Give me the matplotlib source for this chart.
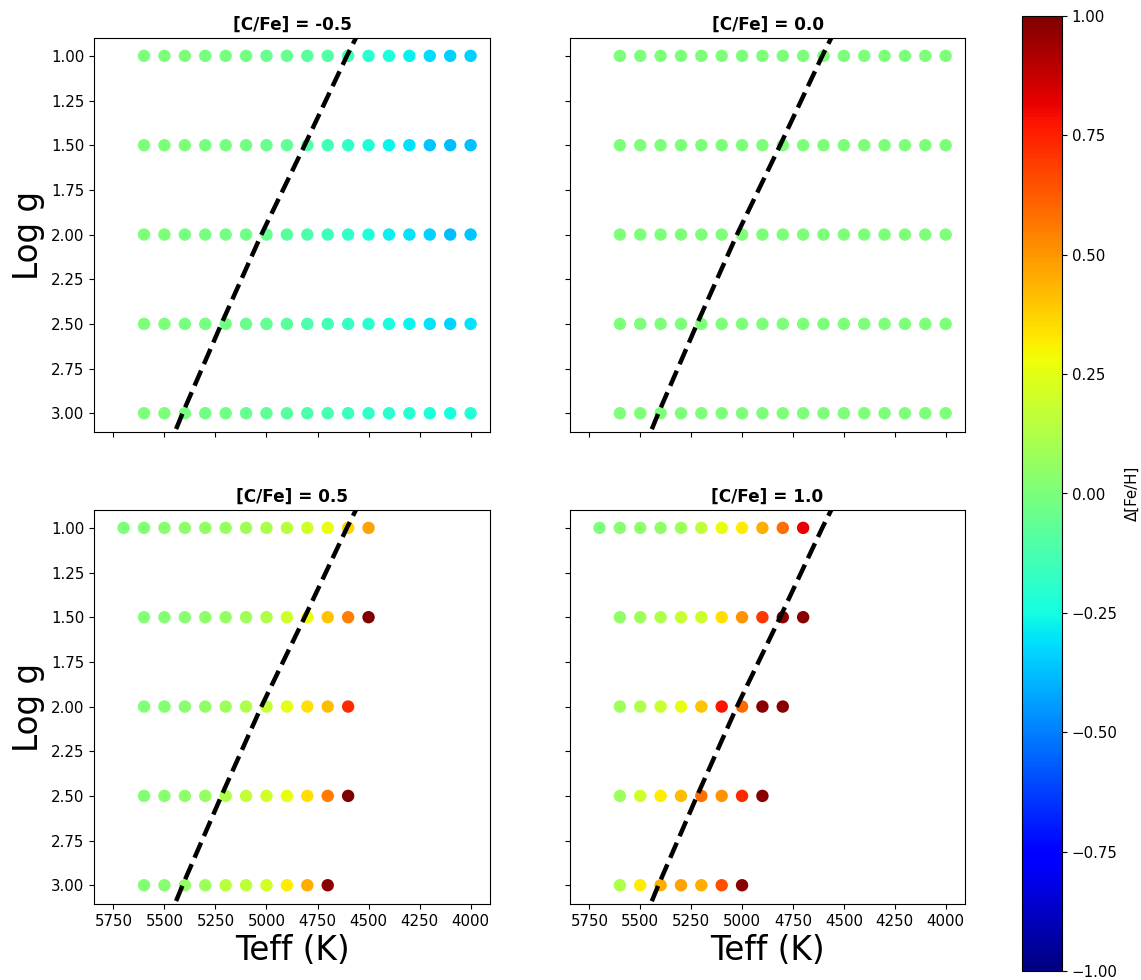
import numpy as np
import matplotlib
matplotlib.use("Agg")
import matplotlib.pyplot as plt
from matplotlib.colors import Normalize

# ---------------- data ----------------
cfe_titles = ["[C/Fe] = -0.5", "[C/Fe] = 0.0", "[C/Fe] = 0.5", "[C/Fe] = 1.0"]
logg_levels = [1.0, 1.5, 2.0, 2.5, 3.0]

# Teff grids per panel / logg row (start, stop) in K, step 100
teff_m05 = {1.0: (5600, 4000), 1.5: (5600, 4000), 2.0: (5600, 4000), 2.5: (5600, 4000), 3.0: (5600, 4000)}
teff_p00 = {1.0: (5600, 4000), 1.5: (5600, 4000), 2.0: (5600, 4000), 2.5: (5600, 4000), 3.0: (5600, 4000)}
teff_p05 = {1.0: (5700, 4500), 1.5: (5600, 4500), 2.0: (5600, 4600), 2.5: (5600, 4600), 3.0: (5600, 4700)}
teff_p10 = {1.0: (5700, 4700), 1.5: (5600, 4700), 2.0: (5600, 4800), 2.5: (5600, 4900), 3.0: (5600, 5000)}

# Delta[Fe/H] values, hot -> cool
dfeh_m05 = {
    1.0: [0.0, 0.0, 0.0, -0.01, -0.01, -0.02, -0.04, -0.05, -0.08, -0.10, -0.14, -0.20, -0.24, -0.28, -0.32, -0.34, -0.34],
    1.5: [0.0, 0.0, 0.0, -0.01, -0.01, -0.02, -0.04, -0.06, -0.10, -0.14, -0.18, -0.22, -0.27, -0.31, -0.36, -0.38, -0.37],
    2.0: [0.0, 0.0, -0.01, -0.01, -0.02, -0.03, -0.05, -0.08, -0.11, -0.15, -0.18, -0.22, -0.28, -0.30, -0.34, -0.38, -0.36],
    2.5: [0.0, 0.0, -0.01, -0.01, -0.02, -0.04, -0.06, -0.08, -0.11, -0.14, -0.17, -0.20, -0.24, -0.27, -0.30, -0.33, -0.30],
    3.0: [0.0, 0.0, -0.01, -0.02, -0.03, -0.05, -0.07, -0.09, -0.11, -0.13, -0.15, -0.18, -0.20, -0.21, -0.23, -0.25, -0.22],
}
dfeh_p00 = {g: [0.0] * 17 for g in logg_levels}
dfeh_p05 = {
    1.0: [0.0, 0.02, 0.03, 0.04, 0.05, 0.07, 0.09, 0.11, 0.15, 0.20, 0.26, 0.37, 0.47],
    1.5: [0.01, 0.02, 0.03, 0.04, 0.06, 0.08, 0.12, 0.20, 0.27, 0.40, 0.55, 1.0],
    2.0: [0.01, 0.02, 0.03, 0.05, 0.08, 0.12, 0.17, 0.25, 0.34, 0.42, 0.73],
    2.5: [0.02, 0.03, 0.04, 0.06, 0.12, 0.17, 0.20, 0.26, 0.35, 0.56, 1.0],
    3.0: [0.02, 0.03, 0.06, 0.08, 0.15, 0.16, 0.21, 0.32, 0.45, 0.98],
}
dfeh_p10 = {
    1.0: [0.0, 0.03, 0.04, 0.05, 0.08, 0.17, 0.26, 0.32, 0.45, 0.58, 0.82],
    1.5: [0.05, 0.08, 0.12, 0.18, 0.19, 0.35, 0.50, 0.70, 0.98, 0.98],
    2.0: [0.08, 0.12, 0.18, 0.26, 0.40, 0.78, 0.60, 0.98, 0.98],
    2.5: [0.08, 0.20, 0.32, 0.42, 0.58, 0.50, 0.73, 0.98],
    3.0: [0.12, 0.32, 0.45, 0.47, 0.45, 0.65, 0.98],
}

# dashed boundary line (Teff vs logg)
line_logg = [0.85, 1.0, 1.5, 2.0, 2.5, 3.0, 3.15]
line_teff = [4540, 4606, 4813, 5025, 5221, 5411, 5465]

xticks = [5750, 5500, 5250, 5000, 4750, 4500, 4250, 4000]
yticks = [1.00, 1.25, 1.50, 1.75, 2.00, 2.25, 2.50, 2.75, 3.00]
cbar_ticks = [-1.0, -0.75, -0.5, -0.25, 0.0, 0.25, 0.5, 0.75, 1.0]

# ---------------- figure ----------------
W, H = 1141, 980
fig = plt.figure(figsize=(W / 100, H / 100), dpi=100)

def ax_rect(l, r, t, b):
    return [l / W, 1 - b / H, (r - l) / W, (b - t) / H]

rects = [ax_rect(94, 490, 38, 432), ax_rect(570, 965, 38, 432),
         ax_rect(94, 490, 510, 904), ax_rect(570, 965, 510, 904)]
grids = [teff_m05, teff_p00, teff_p05, teff_p10]
vals = [dfeh_m05, dfeh_p00, dfeh_p05, dfeh_p10]

cmap = plt.get_cmap("jet")
norm = Normalize(vmin=-1, vmax=1)

axes = []
for i in range(4):
    ax = fig.add_axes(rects[i])
    axes.append(ax)
    for g in logg_levels:
        t0, t1 = grids[i][g]
        teffs = np.arange(t0, t1 - 1, -100)
        v = np.array(vals[i][g])
        ax.scatter(teffs, np.full(len(teffs), g), c=v, cmap=cmap, norm=norm,
                   s=80, linewidths=0, zorder=2)
    ax.plot(line_teff, line_logg, color="black", ls="--", lw=3.2, zorder=3)
    ax.set_xlim(5845, 3905)
    ax.set_ylim(3.105, 0.9)
    ax.set_xticks(xticks)
    ax.set_yticks(yticks)
    ax.tick_params(labelsize=10.8)
    ax.set_title(cfe_titles[i], fontsize=12.2, fontweight="bold", pad=6)
    if i in (0, 1):
        ax.tick_params(labelbottom=False)
    else:
        ax.set_xlabel("Teff (K)", fontsize=23.5)
    if i in (1, 3):
        ax.tick_params(labelleft=False)
    else:
        ax.set_ylabel("Log g", fontsize=23.5)
    ax.yaxis.set_major_formatter(matplotlib.ticker.FormatStrFormatter("%.2f"))

cax = fig.add_axes(ax_rect(1022, 1062, 16, 971))
sm = matplotlib.cm.ScalarMappable(norm=norm, cmap=cmap)
cb = fig.colorbar(sm, cax=cax, ticks=cbar_ticks)
cb.ax.yaxis.set_major_formatter(
    matplotlib.ticker.FuncFormatter(lambda v, p: f"{v:.2f}".replace("-", "\u2212")))
cb.ax.tick_params(labelsize=10.8)
cax.text((1132 - 1022) / 40, 0.5, "Δ[Fe/H]", transform=cax.transAxes,
         rotation=90, ha="center", va="center", fontsize=10.8)

fig.savefig("out.png", dpi=100)
